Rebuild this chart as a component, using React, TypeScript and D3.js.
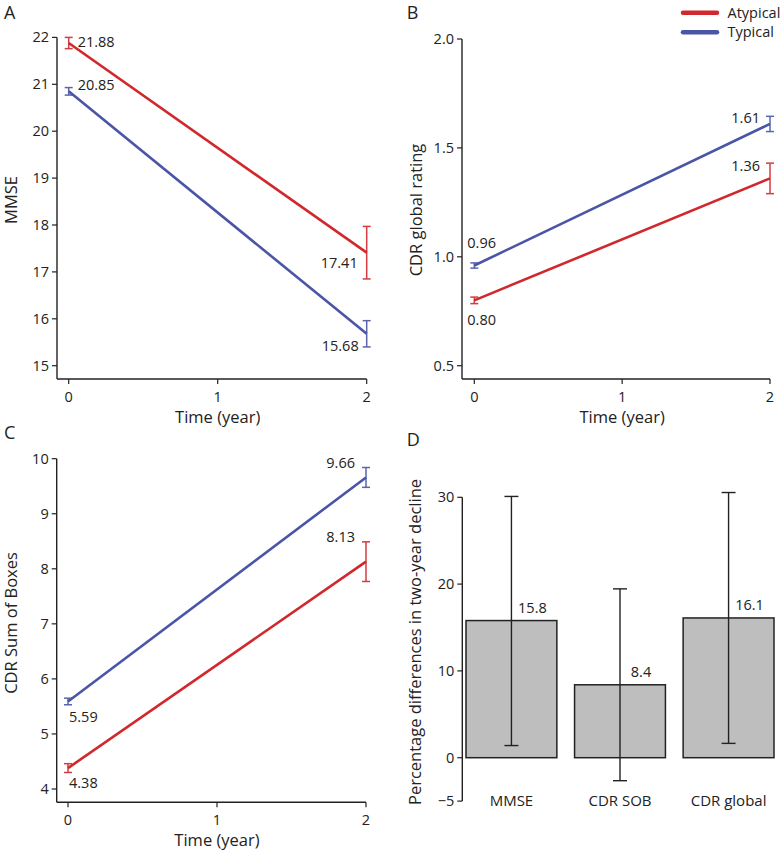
import React from "react";
import * as d3 from "d3";

const RED = "#d0282d";
const BLUE = "#4a55a6";
const FONT = "'Open Sans', 'Noto Sans', sans-serif";
const TICK_FS = 14.5;
const VAL_FS = 14.5;
const TITLE_FS = 16.5;

const times = [0, 2];
const xTicks = [0, 1, 2];

// Panel A: MMSE
const mmseAtypical = [21.88, 17.41];
const mmseAtypicalErr = [0.12, 0.56];
const mmseTypical = [20.85, 15.68];
const mmseTypicalErr = [0.08, 0.28];
const mmseTicks = [15, 16, 17, 18, 19, 20, 21, 22];

// Panel B: CDR global
const globAtypical = [0.8, 1.36];
const globAtypicalErr = [0.015, 0.07];
const globTypical = [0.96, 1.61];
const globTypicalErr = [0.012, 0.035];
const globTicks = [0.5, 1.0, 1.5, 2.0];

// Panel C: CDR SOB
const sobAtypical = [4.38, 8.13];
const sobAtypicalErr = [0.08, 0.36];
const sobTypical = [5.59, 9.66];
const sobTypicalErr = [0.06, 0.18];
const sobTicks = [4, 5, 6, 7, 8, 9, 10];

// Panel D: bars
const barCats = ["MMSE", "CDR SOB", "CDR global"];
const barVals = [15.8, 8.4, 16.1];
const barLo = [1.4, -2.65, 1.65];
const barHi = [30.1, 19.45, 30.55];
const barTicks = [-5, 0, 10, 20, 30];

type LabelPos = { dx: number; dy: number; anchor: string };

interface LinePanelProps {
  ox: number;
  oy: number;
  letter: string;
  yTitle: string;
  yTicks: number[];
  yFmt: (v: number) => string;
  yDomain: [number, number];
  yRange: [number, number];
  xRange: [number, number];
  axisLeft: number;
  axisBottom: number;
  series: { vals: number[]; errs: number[]; color: string; labels: string[]; pos: LabelPos[] }[];
  letterX: number;
  titleX: number;
  titleY: number;
}

function LinePanel(p: LinePanelProps) {
  const x = d3.scaleLinear().domain([0, 2]).range(p.xRange);
  const y = d3.scaleLinear().domain(p.yDomain).range(p.yRange);
  const line = d3
    .line<number>()
    .x((_, i) => x(times[i]))
    .y((d) => y(d));
  const yTop = y(p.yTicks[p.yTicks.length - 1]);
  return (
    <g transform={`translate(${p.ox},${p.oy})`} fontFamily={FONT}>
      <text x={p.letterX} y={19} fontSize={18} fill="#222">
        {p.letter}
      </text>
      {/* y axis */}
      <line x1={p.axisLeft} x2={p.axisLeft} y1={yTop} y2={p.axisBottom} stroke="#222" strokeWidth={1.4} />
      {p.yTicks.map((t) => (
        <g key={t}>
          <line x1={p.axisLeft - 5} x2={p.axisLeft} y1={y(t)} y2={y(t)} stroke="#222" strokeWidth={1.2} />
          <text x={p.axisLeft - 8} y={y(t)} dy="0.35em" textAnchor="end" fontSize={TICK_FS} fill="#222">
            {p.yFmt(t)}
          </text>
        </g>
      ))}
      {/* x axis */}
      <line x1={p.axisLeft} x2={x(2)} y1={p.axisBottom} y2={p.axisBottom} stroke="#222" strokeWidth={1.4} />
      {xTicks.map((t) => (
        <g key={t}>
          <line x1={x(t)} x2={x(t)} y1={p.axisBottom} y2={p.axisBottom + 5} stroke="#222" strokeWidth={1.2} />
          <text x={x(t)} y={p.axisBottom + 18} dy="0.35em" textAnchor="middle" fontSize={TICK_FS} fill="#222">
            {t}
          </text>
        </g>
      ))}
      <text x={(x(0) + x(2)) / 2} y={p.axisBottom + 38} dy="0.35em" textAnchor="middle" fontSize={TITLE_FS} fill="#222">
        Time (year)
      </text>
      <text
        transform={`translate(${p.titleX},${p.titleY}) rotate(-90)`}
        textAnchor="middle"
        dy="0.35em"
        fontSize={TITLE_FS}
        fill="#222"
      >
        {p.yTitle}
      </text>
      {p.series.map((s, si) => (
        <g key={si}>
          <path d={line(s.vals) || ""} fill="none" stroke={s.color} strokeWidth={2.6} />
          {s.vals.map((v, i) => {
            const cx = x(times[i]);
            const y1 = y(v + s.errs[i]);
            const y2 = y(v - s.errs[i]);
            return (
              <g key={i} stroke={s.color} strokeWidth={1.5} opacity={0.9}>
                <line x1={cx} x2={cx} y1={y1} y2={y2} />
                <line x1={cx - 4} x2={cx + 4} y1={y1} y2={y1} />
                <line x1={cx - 4} x2={cx + 4} y1={y2} y2={y2} />
              </g>
            );
          })}
          {s.vals.map((v, i) => (
            <text
              key={"l" + i}
              x={x(times[i]) + s.pos[i].dx}
              y={y(v) + s.pos[i].dy}
              textAnchor={s.pos[i].anchor}
              fontSize={VAL_FS}
              fill="#222"
            >
              {s.labels[i]}
            </text>
          ))}
        </g>
      ))}
    </g>
  );
}

function BarPanel() {
  const ox = 390;
  const oy = 420;
  const y = d3.scaleLinear().domain([0, 30]).range([337.7, 77.3]);
  const x = d3.scaleBand().domain(barCats).range([76, 384]).paddingInner(0.163).paddingOuter(0.0);
  const axisLeft = 72.3;
  return (
    <g transform={`translate(${ox},${oy})`} fontFamily={FONT}>
      <text x={16.7} y={26} fontSize={18} fill="#222">
        D
      </text>
      <line x1={axisLeft} x2={axisLeft} y1={y(30)} y2={y(-5)} stroke="#222" strokeWidth={1.4} />
      {barTicks.map((t) => (
        <g key={t}>
          <line x1={axisLeft - 5} x2={axisLeft} y1={y(t)} y2={y(t)} stroke="#222" strokeWidth={1.2} />
          <text x={axisLeft - 8} y={y(t)} dy="0.35em" textAnchor="end" fontSize={TICK_FS} fill="#222">
            {t < 0 ? "\u2212" + Math.abs(t) : t}
          </text>
        </g>
      ))}
      {barCats.map((c, i) => {
        const bx = x(c) as number;
        const bw = x.bandwidth();
        const cx = bx + bw / 2;
        return (
          <g key={c}>
            <rect x={bx} y={y(barVals[i])} width={bw} height={y(0) - y(barVals[i])} fill="#bebebe" stroke="#222" strokeWidth={1.5} />
            <g stroke="#222" strokeWidth={1.4}>
              <line x1={cx} x2={cx} y1={y(barHi[i])} y2={y(barLo[i])} />
              <line x1={cx - 7} x2={cx + 7} y1={y(barHi[i])} y2={y(barHi[i])} />
              <line x1={cx - 7} x2={cx + 7} y1={y(barLo[i])} y2={y(barLo[i])} />
            </g>
            <text x={cx + 21} y={y(barVals[i]) - 8} textAnchor="middle" fontSize={VAL_FS} fill="#222">
              {barVals[i].toFixed(1)}
            </text>
            <text x={cx} y={y(-5)} dy="0.35em" textAnchor="middle" fontSize={15} fill="#222">
              {c}
            </text>
          </g>
        );
      })}
      <text transform={`translate(25,222) rotate(-90)`} textAnchor="middle" dy="0.35em" fontSize={TITLE_FS} fill="#222">
        Percentage differences in two-year decline
      </text>
    </g>
  );
}

function Legend() {
  const items = [
    { label: "Atypical", color: RED },
    { label: "Typical", color: BLUE },
  ];
  return (
    <g fontFamily={FONT}>
      {items.map((it, i) => (
        <g key={it.label} transform={`translate(0,${12.7 + i * 19.6})`}>
          <line x1={683} x2={717} y1={0} y2={0} stroke={it.color} strokeWidth={4.5} strokeLinecap="round" />
          <text x={727.5} y={0} dy="0.35em" fontSize={14.5} fill="#222">
            {it.label}
          </text>
        </g>
      ))}
    </g>
  );
}

export default function App() {
  const f0 = (v: number) => String(v);
  const f1 = (v: number) => v.toFixed(1);
  return (
    <svg width={781} height={853} style={{ position: "absolute", left: 0, top: 0, background: "#fff" }}>
      <rect width={781} height={853} fill="#fff" />
      <LinePanel
        ox={0}
        oy={0}
        letter="A"
        letterX={4}
        yTitle="MMSE"
        yTicks={mmseTicks}
        yFmt={f0}
        yDomain={[15, 22]}
        yRange={[365.7, 37.4]}
        xRange={[68.7, 366.7]}
        axisLeft={57}
        axisBottom={379}
        titleX={11}
        titleY={200}
        series={[
          {
            vals: mmseAtypical,
            errs: mmseAtypicalErr,
            color: RED,
            labels: ["21.88", "17.41"],
            pos: [
              { dx: 9, dy: 4, anchor: "start" },
              { dx: -9, dy: 15, anchor: "end" },
            ],
          },
          {
            vals: mmseTypical,
            errs: mmseTypicalErr,
            color: BLUE,
            labels: ["20.85", "15.68"],
            pos: [
              { dx: 9, dy: -1, anchor: "start" },
              { dx: -8, dy: 17, anchor: "end" },
            ],
          },
        ]}
      />
      <LinePanel
        ox={390}
        oy={0}
        letter="B"
        letterX={16.7}
        yTitle="CDR global rating"
        yTicks={globTicks}
        yFmt={f1}
        yDomain={[0.5, 2.0]}
        yRange={[365.7, 39]}
        xRange={[84.3, 380]}
        axisLeft={72}
        axisBottom={379}
        titleX={26}
        titleY={210}
        series={[
          {
            vals: globAtypical,
            errs: globAtypicalErr,
            color: RED,
            labels: ["0.80", "1.36"],
            pos: [
              { dx: -7, dy: 25, anchor: "start" },
              { dx: -10, dy: -7, anchor: "end" },
            ],
          },
          {
            vals: globTypical,
            errs: globTypicalErr,
            color: BLUE,
            labels: ["0.96", "1.61"],
            pos: [
              { dx: -7, dy: -18, anchor: "start" },
              { dx: -10, dy: -1, anchor: "end" },
            ],
          },
        ]}
      />
      <LinePanel
        ox={0}
        oy={420}
        letter="C"
        letterX={4}
        yTitle="CDR Sum of Boxes"
        yTicks={sobTicks}
        yFmt={f0}
        yDomain={[4, 10]}
        yRange={[369, 38.7]}
        xRange={[68, 366]}
        axisLeft={56.7}
        axisBottom={382.3}
        titleX={11}
        titleY={203}
        series={[
          {
            vals: sobAtypical,
            errs: sobAtypicalErr,
            color: RED,
            labels: ["4.38", "8.13"],
            pos: [
              { dx: 1, dy: 20, anchor: "start" },
              { dx: -11, dy: -20, anchor: "end" },
            ],
          },
          {
            vals: sobTypical,
            errs: sobTypicalErr,
            color: BLUE,
            labels: ["5.59", "9.66"],
            pos: [
              { dx: 1, dy: 21, anchor: "start" },
              { dx: -11, dy: -9, anchor: "end" },
            ],
          },
        ]}
      />
      <BarPanel />
      <Legend />
    </svg>
  );
}
